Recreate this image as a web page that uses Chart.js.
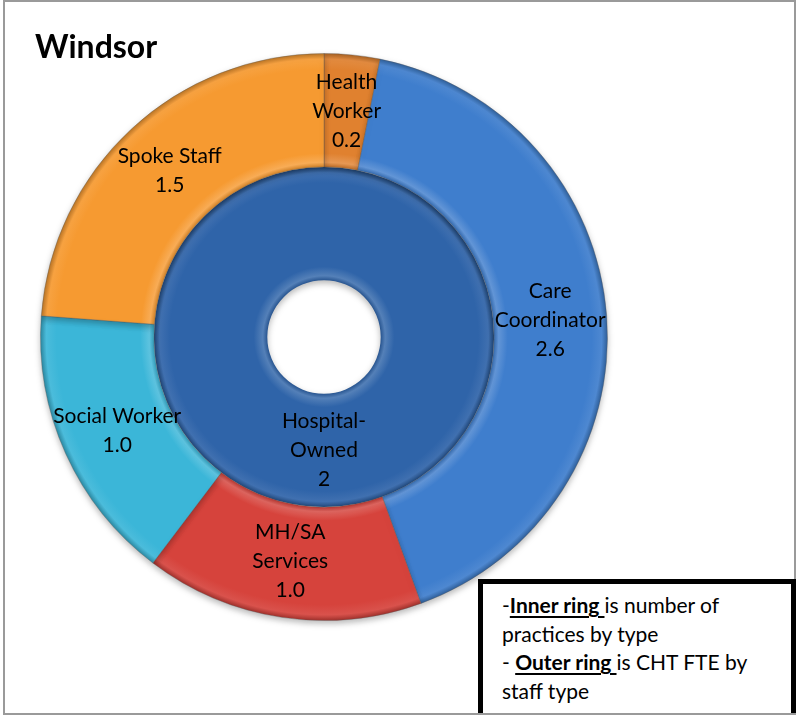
<!DOCTYPE html>
<html>
<head>
<meta charset="utf-8">
<title>Windsor</title>
<script src="https://cdn.jsdelivr.net/npm/chart.js@4.4.0/dist/chart.umd.min.js"></script>
<style>
  html, body { margin: 0; padding: 0; background: #fff; }
  #wrap { position: relative; width: 796px; height: 715px; overflow: hidden; font-family: Lato, "Noto Sans", sans-serif; }
  #frame { position: absolute; left: 3px; top: 0; width: 793px; height: 715px; border: 2px solid #9a9a9a; box-sizing: border-box; }
  #chart { position: absolute; left: 0; top: 0; }
  #title { position: absolute; left: 35px; top: 30px; font-size: 32px; line-height: 32px; font-weight: bold; color: #000; }
  #note { position: absolute; left: 478px; top: 579px; width: 318px; height: 134px; box-sizing: border-box;
          border: 5px solid #000; border-bottom: none; background: #fff; padding: 7px 0 0 19px;
          font-size: 21px; line-height: 28.5px; color: #000; white-space: nowrap; }
  #note u { text-decoration-thickness: 2px; text-underline-offset: 3px; }
</style>
</head>
<body>
<div id="wrap">
  <div id="frame"></div>
  <canvas id="chart" width="796" height="715"></canvas>
  <div id="title">Windsor</div>
  <div id="note">-<b><u>Inner ring </u></b>is number of<br>practices by type<br>- <b><u>Outer ring </u></b>is CHT FTE by<br>staff type</div>
</div>
<script>
// outer ring: CHT FTE by staff type (clockwise from 12 o'clock)
const staffTypes = ['Health Worker', 'Care Coordinator', 'MH/SA Services', 'Social Worker', 'Spoke Staff'];
const staffFte = [0.2, 2.6, 1.0, 1.0, 1.5];
const staffColors = ['#E0812F', '#3F7ECD', '#D6433C', '#3BB6D8', '#F69A31'];

// inner ring: number of practices by type
const practiceTypes = ['Hospital-Owned'];
const practiceCounts = [2];
const practiceColors = ['#2F64A9'];

// how the slice labels break over lines
const wrapped = {
  'Health Worker': ['Health', 'Worker'],
  'Care Coordinator': ['Care', 'Coordinator'],
  'MH/SA Services': ['MH/SA', 'Services'],
  'Hospital-Owned': ['Hospital-', 'Owned']
};

function shade(hex, amt) {
  const n = parseInt(hex.slice(1), 16);
  let r = n >> 16, g = (n >> 8) & 255, b = n & 255;
  const f = c => Math.max(0, Math.min(255, Math.round(amt >= 0 ? c + (255 - c) * amt : c * (1 + amt))));
  return 'rgb(' + f(r) + ',' + f(g) + ',' + f(b) + ')';
}

// radial gradient so each ring gets a soft bevel on its edges
function bevel(colors) {
  return function (context) {
    const chart = context.chart;
    const area = chart.chartArea;
    const ctrl = chart.getDatasetMeta(context.datasetIndex).controller;
    const base = colors[context.dataIndex % colors.length];
    if (!area || !ctrl || !ctrl.outerRadius) return base;
    const cx = (area.left + area.right) / 2;
    const cy = (area.top + area.bottom) / 2;
    const r0 = ctrl.innerRadius, r1 = ctrl.outerRadius;
    const g = chart.ctx.createRadialGradient(cx, cy, r0, cx, cy, r1);
    g.addColorStop(0, shade(base, -0.15));
    g.addColorStop(0.04, shade(base, 0.18));
    g.addColorStop(0.12, base);
    g.addColorStop(0.86, base);
    g.addColorStop(0.95, shade(base, 0.08));
    g.addColorStop(1, shade(base, -0.25));
    return g;
  };
}

// faint drop shadow under both rings
const ringShadow = {
  id: 'ringShadow',
  beforeDatasetDraw(chart) {
    const ctx = chart.ctx;
    ctx.save();
    ctx.shadowColor = 'rgba(0,0,0,0.28)';
    ctx.shadowBlur = 6;
    ctx.shadowOffsetY = 3;
  },
  afterDatasetDraw(chart) {
    chart.ctx.restore();
  }
};

const sliceLabels = {
  id: 'sliceLabels',
  afterDatasetsDraw(chart) {
    const ctx = chart.ctx;
    ctx.save();
    ctx.font = '21px Lato, "Noto Sans", sans-serif';
    ctx.fillStyle = '#000';
    ctx.textAlign = 'center';
    ctx.textBaseline = 'middle';
    chart.data.datasets.forEach((ds, i) => {
      const meta = chart.getDatasetMeta(i);
      meta.data.forEach((arc, j) => {
        const name = ds.categories[j];
        const lines = (wrapped[name] || [name]).concat(ds.format(ds.data[j]));
        const p = arc.tooltipPosition();
        const lh = 29;
        const y0 = p.y - (lines.length - 1) * lh / 2;
        lines.forEach((t, k) => ctx.fillText(t, p.x, y0 + k * lh));
      });
    });
    ctx.restore();
  }
};

new Chart(document.getElementById('chart'), {
  type: 'doughnut',
  data: {
    labels: staffTypes,
    datasets: [
      {
        categories: staffTypes,
        data: staffFte,
        format: v => v.toFixed(1),
        backgroundColor: bevel(staffColors),
        borderColor: 'rgba(90,90,90,0.35)',
        borderWidth: 1
      },
      {
        categories: practiceTypes,
        data: practiceCounts,
        format: v => String(v),
        backgroundColor: bevel(practiceColors),
        borderWidth: 0
      }
    ]
  },
  options: {
    responsive: false,
    animation: false,
    rotation: 0,
    cutout: '20%',
    layout: { padding: { left: 40, top: 53, right: 188, bottom: 94 } },
    plugins: {
      legend: { display: false },
      tooltip: { enabled: false }
    }
  },
  plugins: [ringShadow, sliceLabels]
});
</script>
</body>
</html>
